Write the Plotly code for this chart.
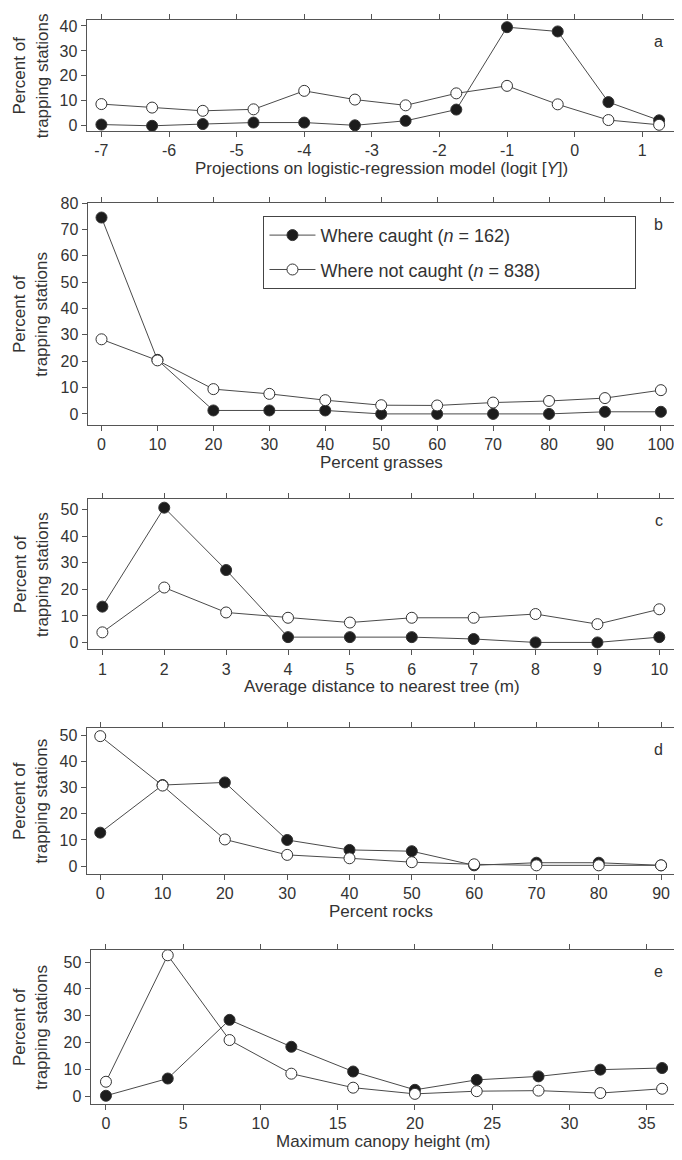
import plotly.graph_objects as go

# The page has an 8 px body margin, so the figure is laid out 8 px smaller
# and all pixel positions below are given in window coordinates minus OFF.
OFF = 8
W, H = 682 - OFF, 1160 - OFF

# ---------------- data ----------------
a_x = [-7, -6.25, -5.5, -4.75, -4, -3.25, -2.5, -1.75, -1, -0.25, 0.5, 1.25]
a_caught = [0.5, 0.0, 0.7, 1.3, 1.3, 0.2, 2.0, 6.5, 39.5, 37.8, 9.5, 2.2]
a_not = [8.7, 7.3, 6.0, 6.6, 14.0, 10.5, 8.2, 13.0, 16.0, 8.6, 2.3, 0.4]

b_x = [0, 10, 20, 30, 40, 50, 60, 70, 80, 90, 100]
b_caught = [74.5, 20.5, 1.3, 1.3, 1.3, 0.0, 0.0, 0.0, 0.0, 0.8, 0.8]
b_not = [28.3, 20.3, 9.4, 7.6, 5.2, 3.3, 3.2, 4.3, 4.9, 6.0, 9.0]

c_x = [1, 2, 3, 4, 5, 6, 7, 8, 9, 10]
c_caught = [13.5, 50.8, 27.3, 2.0, 2.0, 2.0, 1.3, 0.0, 0.0, 2.0]
c_not = [3.8, 20.7, 11.3, 9.3, 7.5, 9.3, 9.3, 10.7, 6.9, 12.5]

d_x = [0, 10, 20, 30, 40, 50, 60, 70, 80, 90]
d_caught = [12.8, 31.0, 32.0, 10.0, 6.2, 5.7, 0.3, 1.3, 1.3, 0.3]
d_not = [49.7, 30.8, 10.2, 4.3, 3.0, 1.5, 0.7, 0.3, 0.3, 0.3]

e_x = [0, 4, 8, 12, 16, 20, 24, 28, 32, 36]
e_caught = [0.3, 6.7, 28.5, 18.5, 9.3, 2.5, 6.2, 7.5, 10.0, 10.6]
e_not = [5.5, 52.5, 21.0, 8.5, 3.3, 1.0, 2.0, 2.2, 1.3, 2.9]

a_ticks = [-7, -6, -5, -4, -3, -2, -1, 0, 1]
a_ticktext = ["-7", "-6", "-5", "-4", "-3", "-2", "-1", "0", "1"]
b_ticks = [0, 10, 20, 30, 40, 50, 60, 70, 80, 90, 100]
c_ticks = [1, 2, 3, 4, 5, 6, 7, 8, 9, 10]
d_ticks = [0, 10, 20, 30, 40, 50, 60, 70, 80, 90]
e_ticks = [0, 5, 10, 15, 20, 25, 30, 35]

titles = ["Projections on logistic-regression model (logit [<i>Y</i>])",
          "Percent grasses",
          "Average distance to nearest tree (m)",
          "Percent rocks",
          "Maximum canopy height (m)"]
letters = ["a", "b", "c", "d", "e"]
legend_names = ["Where caught (<i>n</i> = 162)", "Where not caught (<i>n</i> = 838)"]

# ---------------- layout geometry (window pixels) ----------------
panels = [
    dict(x=a_x, c=a_caught, n=a_not, ticks=a_ticks, ttext=a_ticktext, xr=[-7.22, 1.5],
         yr=[-2.0, 42.4], yt=[0, 10, 20, 30, 40], top=12, bot=124, left=87),
    dict(x=b_x, c=b_caught, n=b_not, ticks=b_ticks, ttext=None, xr=[-2.5, 102.7],
         yr=[-4.1, 80], yt=[0, 10, 20, 30, 40, 50, 60, 70, 80], top=197, bot=421, left=88),
    dict(x=c_x, c=c_caught, n=c_not, ticks=c_ticks, ttext=None, xr=[0.76, 10.27],
         yr=[-2.6, 54.1], yt=[0, 10, 20, 30, 40, 50], top=496, bot=648, left=88),
    dict(x=d_x, c=d_caught, n=d_not, ticks=d_ticks, ttext=None, xr=[-2.2, 92.4],
         yr=[-3.0, 53.0], yt=[0, 10, 20, 30, 40, 50], top=727, bot=875, left=87),
    dict(x=e_x, c=e_caught, n=e_not, ticks=e_ticks, ttext=None, xr=[-1.0, 36.9],
         yr=[-2.6, 54.4], yt=[0, 10, 20, 30, 40, 50], top=952, bot=1107, left=91),
]
RIGHT = 680

FONT = "Liberation Sans, Arial, sans-serif"
TXT = "#333333"
AX = "#555555"
LINE = "#4a4a4a"


def px_x(v):
    return (v - OFF) / W


def px_y(v):
    return 1 - (v - OFF) / H


fig = go.Figure()
layout = dict(width=W, height=H, margin=dict(l=0, r=0, t=0, b=0),
              paper_bgcolor="white", plot_bgcolor="white", showlegend=True,
              font=dict(family=FONT, color=TXT, size=16))
annotations = []

for i, p in enumerate(panels):
    k = "" if i == 0 else str(i + 1)
    xa, ya = "x" + k, "y" + k
    fig.add_trace(go.Scatter(
        x=p["x"], y=p["c"], xaxis=xa, yaxis=ya, mode="lines+markers",
        name=legend_names[0] + "\u00a0" * 24, showlegend=(i == 1), cliponaxis=False,
        legendgroup="caught",
        line=dict(color=LINE, width=1),
        marker=dict(size=11, color="#1c1c1c", line=dict(color="#333333", width=1))))
    fig.add_trace(go.Scatter(
        x=p["x"], y=p["n"], xaxis=xa, yaxis=ya, mode="lines+markers",
        name=legend_names[1] + "\u00a0" * 16, showlegend=(i == 1), cliponaxis=False,
        legendgroup="not",
        line=dict(color=LINE, width=1),
        marker=dict(size=11, color="white", line=dict(color="#333333", width=1))))

    xd = [px_x(p["left"]), px_x(RIGHT)]
    yd = [px_y(p["bot"]), px_y(p["top"])]
    xaxis = dict(domain=xd, range=p["xr"], anchor=ya, tickvals=p["ticks"],
                 ticks="outside", ticklen=5, tickcolor=AX, showline=True,
                 linecolor=AX, linewidth=1, mirror="ticks", showgrid=False,
                 zeroline=False, tickfont=dict(size=16, color=TXT))
    if p["ttext"] is not None:
        xaxis["ticktext"] = p["ttext"]
    layout["xaxis" + k] = xaxis
    layout["yaxis" + k] = dict(domain=yd, range=p["yr"], anchor=xa, tickvals=p["yt"],
                               ticks="outside", ticklen=5, tickcolor=AX, showline=True,
                               linecolor=AX, linewidth=1, mirror="ticks", showgrid=False,
                               zeroline=False, tickfont=dict(size=16, color=TXT))
    cx = px_x((p["left"] + RIGHT) / 2)
    annotations.append(dict(text=titles[i], x=cx, y=px_y(p["bot"] + 38),
                            xref="paper", yref="paper", showarrow=False,
                            font=dict(size=17, color=TXT), xanchor="center", yanchor="middle"))
    annotations.append(dict(text="Percent of<br>trapping stations", x=px_x(31),
                            y=px_y((p["top"] + p["bot"]) / 2), xref="paper", yref="paper",
                            showarrow=False, textangle=-90, font=dict(size=17, color=TXT),
                            xanchor="center", yanchor="middle"))
    annotations.append(dict(text=letters[i], x=px_x(669), y=px_y(p["top"] + 22),
                            xref="paper", yref="paper", showarrow=False,
                            font=dict(size=16, color=TXT), xanchor="right", yanchor="middle"))

layout["annotations"] = annotations
layout["legend"] = dict(x=px_x(265), y=px_y(210), xanchor="left", yanchor="top",
                        bordercolor="#444444", borderwidth=1, bgcolor="white",
                        font=dict(size=18, color=TXT), itemwidth=46,
                        tracegroupgap=8)
fig.update_layout(**layout)
fig.write_html("out.html")
